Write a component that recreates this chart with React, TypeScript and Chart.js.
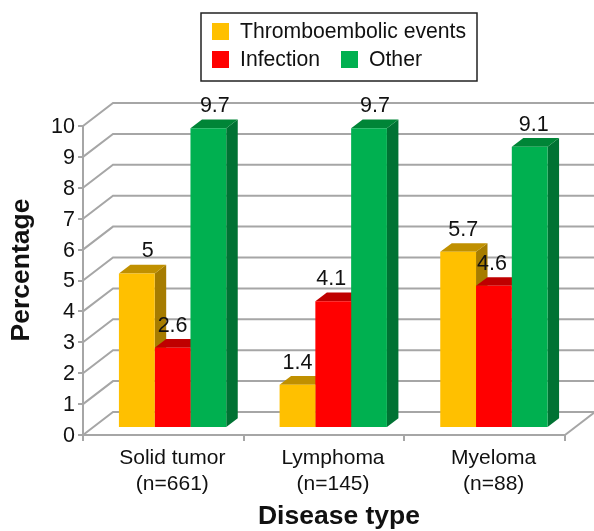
import React, { useEffect, useRef } from "react";
import { Chart, registerables } from "chart.js";

Chart.register(...registerables);

const categories = [["Solid tumor", "(n=661)"], ["Lymphoma", "(n=145)"], ["Myeloma", "(n=88)"]];
const thromboembolic = [5, 1.4, 5.7];
const infection = [2.6, 4.1, 4.6];
const other = [9.7, 9.7, 9.1];
const seriesNames = ["Thromboembolic events", "Infection", "Other"];
const frontColors = ["#FFC000", "#FF0000", "#00B050"];
const topColors = ["#C09000", "#BF0000", "#008537"];
const sideColors = ["#A67C00", "#A00000", "#007233"];
const labelNudgeX = [
  [11, 0, 6.5],
  [0, -2, 6],
  [5, -2, 4],
];
const FONT = "'Liberation Sans', Arial, sans-serif";
const GRID = "#a6a6a6";

const plugin3d = {
  id: "plugin3d",
  beforeDraw(chart: any) {
    const { ctx, chartArea: a, scales } = chart;
    const y = scales.y;
    const wallDx = 30;
    const wallDy = 23;
    ctx.save();
    ctx.strokeStyle = GRID;
    ctx.lineWidth = 2;
    for (const t of y.ticks) {
      const py = y.getPixelForValue(t.value);
      ctx.beginPath();
      ctx.moveTo(a.left, py);
      ctx.lineTo(a.left + wallDx, py - wallDy);
      ctx.lineTo(chart.width, py - wallDy);
      ctx.stroke();
    }
    const by = y.getPixelForValue(0);
    ctx.beginPath();
    ctx.moveTo(a.right, by);
    ctx.lineTo(a.right + wallDx, by - wallDy);
    ctx.stroke();
    ctx.restore();
  },
  beforeDatasetsDraw(chart: any) {
    const { ctx } = chart;
    const dx = 11.5;
    const dy = 8.7;
    ctx.save();
    ctx.translate(9.25, -7);
    chart.data.datasets.forEach((_: any, i: number) => {
      chart.getDatasetMeta(i).data.forEach((bar: any) => {
        const p = bar.getProps(["x", "y", "base", "width"], true);
        const l = p.x - p.width / 2;
        const r = p.x + p.width / 2;
        ctx.fillStyle = sideColors[i];
        ctx.beginPath();
        ctx.moveTo(r, p.y);
        ctx.lineTo(r + dx, p.y - dy);
        ctx.lineTo(r + dx, p.base - dy);
        ctx.lineTo(r, p.base);
        ctx.closePath();
        ctx.fill();
        ctx.fillStyle = topColors[i];
        ctx.beginPath();
        ctx.moveTo(l, p.y);
        ctx.lineTo(l + dx, p.y - dy);
        ctx.lineTo(r + dx, p.y - dy);
        ctx.lineTo(r, p.y);
        ctx.closePath();
        ctx.fill();
      });
    });
  },
  afterDatasetsDraw(chart: any) {
    const { ctx } = chart;
    ctx.fillStyle = "#111";
    ctx.font = `21.5px ${FONT}`;
    ctx.textAlign = "center";
    ctx.textBaseline = "middle";
    chart.data.datasets.forEach((ds: any, i: number) => {
      chart.getDatasetMeta(i).data.forEach((bar: any, j: number) => {
        const p = bar.getProps(["x", "y"], true);
        ctx.fillText(String(ds.data[j]), p.x + labelNudgeX[j][i], p.y - 22);
      });
    });
    ctx.restore();
  },
  afterDraw(chart: any) {
    const { ctx } = chart;
    ctx.save();
    ctx.translate(22, 270);
    ctx.rotate(-Math.PI / 2);
    ctx.fillStyle = "#111";
    ctx.font = `bold 26.5px ${FONT}`;
    ctx.textAlign = "center";
    ctx.textBaseline = "middle";
    ctx.fillText("Percentage", 0, 0);
    ctx.restore();

    ctx.save();
    ctx.fillStyle = "#111";
    ctx.font = `bold 26.5px ${FONT}`;
    ctx.textAlign = "center";
    ctx.textBaseline = "middle";
    ctx.fillText("Disease type", 339, 517);
    ctx.restore();

    ctx.save();
    ctx.strokeStyle = "#222";
    ctx.lineWidth = 1.5;
    ctx.fillStyle = "#fff";
    ctx.fillRect(201, 13, 276, 68);
    ctx.strokeRect(201, 13, 276, 68);
    const pos = [
      [212, 23],
      [212, 51],
      [341, 51],
    ];
    ctx.font = `21.2px ${FONT}`;
    ctx.textAlign = "left";
    ctx.textBaseline = "middle";
    seriesNames.forEach((name, i) => {
      ctx.fillStyle = frontColors[i];
      ctx.fillRect(pos[i][0], pos[i][1], 17, 17);
      ctx.fillStyle = "#111";
      ctx.fillText(name, pos[i][0] + 28, pos[i][1] + 9);
    });
    ctx.restore();
  },
};

export default function App() {
  const ref = useRef<HTMLCanvasElement | null>(null);
  useEffect(() => {
    const chart = new Chart(ref.current as HTMLCanvasElement, {
      type: "bar",
      data: {
        labels: categories as any,
        datasets: [thromboembolic, infection, other].map((data, i) => ({
          label: seriesNames[i],
          data,
          backgroundColor: frontColors[i],
          borderWidth: 0,
          clip: false as any,
          categoryPercentage: 0.668,
          barPercentage: 1,
        })),
      },
      options: {
        responsive: false,
        animation: false,
        devicePixelRatio: 1,
        layout: { padding: { top: 126, right: 29, left: 0, bottom: 0 } },
        plugins: { legend: { display: false }, tooltip: { enabled: false } },
        scales: {
          x: {
            afterFit: (s: any) => { s.height = 96; },
            grid: { offset: true, drawOnChartArea: false, tickLength: 6, color: GRID, lineWidth: 2 },
            border: { color: GRID, width: 2 },
            ticks: {
              color: "#111",
              font: { family: FONT, size: 21, lineHeight: 1.2 },
              labelOffset: 9,
              padding: 5,
              maxRotation: 0,
            },
          },
          y: {
            min: 0,
            max: 10,
            afterFit: (s: any) => { s.width = 83; },
            grid: { drawOnChartArea: false, tickLength: 5, color: GRID, lineWidth: 2 },
            border: { color: GRID, width: 2 },
            ticks: {
              stepSize: 1,
              color: "#111",
              font: { family: FONT, size: 21.5 },
              padding: 3,
              labelOffset: 1,
            },
          },
        },
      },
      plugins: [plugin3d],
    });
    return () => chart.destroy();
  }, []);
  return (
    <div style={{ position: "absolute", left: 0, top: 0, width: 594, height: 531 }}>
      <canvas ref={ref} width={594} height={531} style={{ display: "block" }} />
    </div>
  );
}
